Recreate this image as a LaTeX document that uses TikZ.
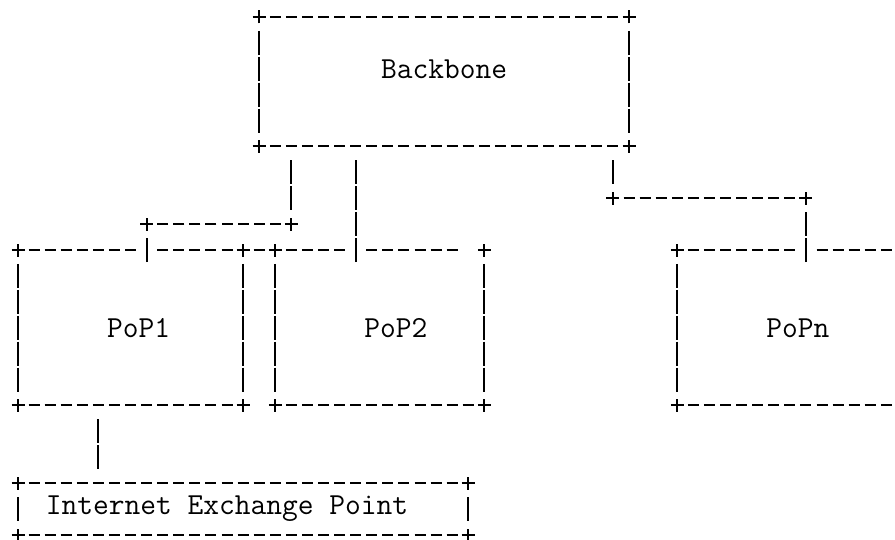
\documentclass[tikz,border=0pt]{standalone}
\usepackage{fontspec}
\usetikzlibrary{fit}
\tikzset{
  ink/.style={line width=2pt, black},
  hline/.style={ink, dash pattern=on 11pt off 5.08pt, shorten <=10.58pt, shorten >=10.58pt},
  vline/.style={ink, dash pattern=on 24pt off 1.9pt, shorten <=13.9pt, shorten >=13.9pt},
  box/.style={inner sep=0pt, outer sep=0pt, draw=none},
  lbl/.style={font=\ttfamily\fontsize{30.6pt}{34pt}\selectfont, inner sep=0pt, anchor=mid},
  plusmark/.pic={\draw[ink] (-6.5pt,0)--(6.5pt,0) (0,-6.5pt)--(0,6.5pt);},
  barmark/.pic={\draw[ink] (0,-12pt)--(0,12pt);},
}
\newcommand{\boxsides}[1]{%
  \draw[vline] (#1.north west) -- (#1.south west);
  \draw[vline] (#1.north east) -- (#1.south east);
  \pic at (#1.north west) {plusmark};
  \pic at (#1.north east) {plusmark};
  \pic at (#1.south west) {plusmark};
  \pic at (#1.south east) {plusmark};
}
\begin{document}
\begin{tikzpicture}[x=16.08pt, y=-25.9pt]
\fill[white] (-1.1194,-0.65637) rectangle (54.5398,20.1931);
\path[use as bounding box] (-1.1194,-0.65637) rectangle (54.5398,20.1931);
\clip (-1.1194,-0.65637) rectangle (54.5398,20.1931);

% boxes
\node[box, fit={(15,0)(38,5)}, label={[lbl, yshift=12.95pt]center:Backbone}] (bb) {};
\node[box, fit={(0,9)(14,15)}, label={[lbl, xshift=8.04pt]center:PoP1}] (pop1) {};
\node[box, fit={(16,9)(29,15)}, label={[lbl, xshift=16.08pt]center:PoP2}] (pop2) {};
\node[box, fit={(41,9)(56,15)}, label={[lbl]center:PoPn}] (popn) {};
\node[box, fit={(0,18)(28,20)}, label={[lbl, xshift=-16.08pt]center:Internet Exchange Point}] (ixp) {};

% junction points
\coordinate (j1) at (17,8);
\coordinate (j2) at (8,8);
\coordinate (j3) at (37,7);
\coordinate (j4) at (49,7);
\coordinate (j5) at (21,9);
\coordinate (j6) at (28,9);
\coordinate (d) at (5,18);

% Backbone
\boxsides{bb}
\draw[hline] (bb.north west) -- (bb.north east);
\draw[hline] (bb.south west) -- (bb.south east);

% PoP1
\boxsides{pop1}
\draw[hline] (pop1.north west) -- (pop1.north -| j2);
\draw[hline] (pop1.north -| j2) -- (pop1.north east);
\draw[hline] (pop1.south west) -- (pop1.south east);
\draw[hline] (pop1.north east) -- (pop2.north west);

% PoP2
\boxsides{pop2}
\draw[hline] (pop2.north west) -- (j5);
\draw[hline] (j5) -- (j6);
\draw[hline] (pop2.south west) -- (pop2.south east);

% PoPn
\boxsides{popn}
\draw[hline] (popn.north west) -- (popn.north -| j4);
\draw[hline] (popn.north -| j4) -- (popn.north east);
\draw[hline] (popn.south west) -- (popn.south east);

% IXP
\boxsides{ixp}
\draw[hline] (ixp.north west) -- (ixp.north east);
\draw[hline] (ixp.south west) -- (ixp.south east);

% connector Backbone -> PoP1
\draw[vline] (bb.south -| j1) -- (j1);
\draw[hline] (j1) -- (j2);
\pic at (j1) {plusmark};
\pic at (j2) {plusmark};
\pic at (pop1.north -| j2) {barmark};

% connector Backbone -> PoP2
\draw[vline] (bb.south -| j5) -- (j5);
\pic at (j5) {barmark};

% connector Backbone -> PoPn
\draw[vline] (bb.south -| j3) -- (j3);
\draw[hline] (j3) -- (j4);
\pic at (j3) {plusmark};
\pic at (j4) {plusmark};
\draw[vline] (j4) -- (popn.north -| j4);
\pic at (popn.north -| j4) {barmark};

% connector PoP1 -> IXP
\draw[vline] (pop1.south -| d) -- (ixp.north -| d);
\end{tikzpicture}
\end{document}
